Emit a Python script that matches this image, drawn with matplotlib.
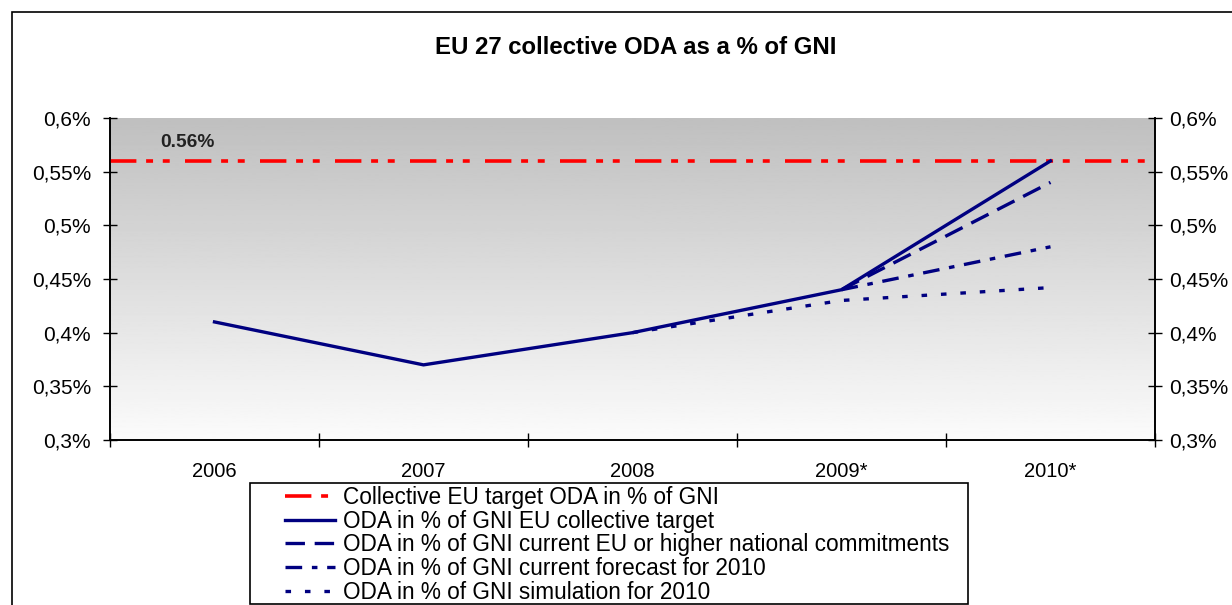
import numpy as np
import matplotlib
matplotlib.use("Agg")
import matplotlib.pyplot as plt
from matplotlib.patches import Rectangle
from matplotlib.ticker import FixedLocator, FuncFormatter

plt.rcParams["font.family"] = ["Liberation Sans", "DejaVu Sans"]
plt.rcParams["lines.scale_dashes"] = False

# ---------------------------------------------------------------------------
# data (ODA as % of GNI)
# ---------------------------------------------------------------------------
years = ["2006", "2007", "2008", "2009*", "2010*"]
eu_target = [0.41, 0.37, 0.40, 0.44, 0.56]
commitments = [np.nan, np.nan, np.nan, 0.44, 0.54]
forecast = [np.nan, np.nan, np.nan, 0.44, 0.48]
simulation = [np.nan, np.nan, 0.40, 0.43, 0.442]
collective_target = 0.56
y_ticks = [0.3, 0.35, 0.4, 0.45, 0.5, 0.55, 0.6]

labels = [
    "Collective EU target ODA in % of GNI",
    "ODA in % of GNI EU collective target",
    "ODA in % of GNI current EU or higher national commitments",
    "ODA in % of GNI current forecast for 2010",
    "ODA in % of GNI simulation for 2010",
]

NAVY = "#000080"
RED = "#ff0000"

W, H = 1232, 605
fig = plt.figure(figsize=(W / 100, H / 100), dpi=100)
ax = fig.add_axes([110 / W, 1 - 440 / H, (1155 - 110) / W, (440 - 118) / H])


def pct(v, pos=None):
    return f"{round(v, 2):g}".replace(".", ",") + "%"


# outer chart frame
fig.patches.append(Rectangle((12 / W, -0.1), 1.2, 1 - 12 / H + 0.1,
                             transform=fig.transFigure, fill=False,
                             edgecolor="black", linewidth=1.2))

x = np.arange(len(years))

# gradient plot area
grad = np.linspace(0.75, 0.985, 256).reshape(-1, 1)
ax.imshow(grad, cmap="gray", vmin=0, vmax=1, aspect="auto",
          extent=[-0.5, 4.5, 0.3, 0.6], origin="upper", zorder=0)

ax.axhline(collective_target, color=RED, linewidth=2.6,
           linestyle=(0, (19, 7, 5, 7, 5, 11)), label=labels[0], zorder=3)
ax.plot(x, simulation, color=NAVY, linewidth=2.4,
        linestyle=(0, (4, 10)), label=labels[4], zorder=4)
ax.plot(x, forecast, color=NAVY, linewidth=2.4,
        linestyle=(0, (12, 7, 4, 7)), label=labels[3], zorder=4)
ax.plot(x, commitments, color=NAVY, linewidth=2.4,
        linestyle=(0, (14, 7)), label=labels[2], zorder=4)
ax.plot(x, eu_target, color=NAVY, linewidth=2.4, label=labels[1], zorder=5)

ax.text(-0.13, 0.577, "0.56%", fontsize=13.8, fontweight="bold",
        color="#222222", ha="center", va="center")

ax.set_xlim(-0.5, 4.5)
ax.set_ylim(0.3, 0.6)

ax.xaxis.set_major_locator(FixedLocator(np.arange(-0.5, 5.0, 1.0)))
ax.xaxis.set_minor_locator(FixedLocator(x))
ax.set_xticklabels([], minor=False)
ax.set_xticklabels(years, minor=True)
ax.tick_params(axis="x", which="major", direction="inout", length=10, width=1)
ax.tick_params(axis="x", which="minor", length=0, pad=16, labelsize=14.5)

ax.yaxis.set_major_locator(FixedLocator(y_ticks))
ax.yaxis.set_major_formatter(FuncFormatter(pct))
ax.tick_params(axis="y", direction="inout", length=10, width=1, labelsize=15,
               pad=8.5)

# right-hand axis (same scale)
ax2 = ax.twinx()
ax2.set_ylim(0.3, 0.6)
ax2.yaxis.set_major_locator(FixedLocator(y_ticks))
ax2.yaxis.set_major_formatter(FuncFormatter(pct))
ax2.tick_params(axis="y", direction="inout", length=10, width=1, labelsize=15,
                pad=5)

for a in (ax, ax2):
    for side in ["left", "right", "bottom"]:
        a.spines[side].set_linewidth(1.2)
    a.spines["top"].set_visible(False)

fig.text(0.516, 1 - 47 / H, "EU 27 collective ODA as a % of GNI",
         fontsize=17.3, fontweight="bold", ha="center", va="center")

# legend, frame drawn separately
handles, lbls = ax.get_legend_handles_labels()
order = [lbls.index(l) for l in labels]
leg = fig.legend([handles[i] for i in order], [lbls[i] for i in order],
                 loc="upper left", bbox_to_anchor=(285 / W, 1 - 486 / H),
                 fontsize=16.3, frameon=False, handlelength=2.2,
                 handletextpad=0.35, labelspacing=0.03, borderpad=0,
                 borderaxespad=0)
fig.patches.append(Rectangle((250 / W, 1 - 604 / H), (968 - 250) / W,
                             (604 - 483) / H, transform=fig.transFigure,
                             fill=False, edgecolor="black", linewidth=1.2))

fig.savefig("out.png", dpi=100, facecolor="white")
